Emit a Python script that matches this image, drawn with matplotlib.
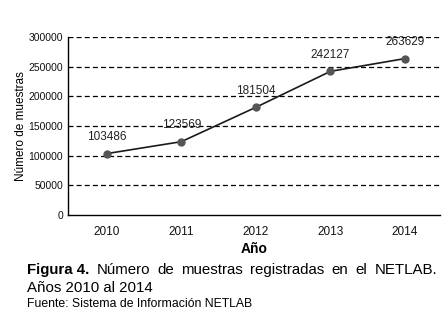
import matplotlib
matplotlib.use("Agg")
import matplotlib.pyplot as plt

years = [2010, 2011, 2012, 2013, 2014]
muestras = [103486, 123569, 181504, 242127, 263629]
yticks = [0, 50000, 100000, 150000, 200000, 250000, 300000]
caption_words = ["Figura 4.", "Número", "de", "muestras", "registradas", "en", "el", "NETLAB."]

plt.rcParams["font.family"] = ["Liberation Sans", "DejaVu Sans"]

W, H = 445, 321
fig = plt.figure(figsize=(W/100, H/100), dpi=100)
ax = fig.add_axes([68/W, 1-215/H, 372/W, 178/H])

for t in yticks[1:]:
    ax.axhline(t, color="black", lw=0.9, ls=(0, (4, 2.5)), zorder=1)

ax.plot(years, muestras, color="#1a1a1a", lw=1.2, zorder=2)
ax.plot(years, muestras, "o", color="#555555", ms=5, zorder=3)
for x, y in zip(years, muestras):
    ax.annotate(f"{y}", (x, y), xytext=(0, 7.5), textcoords="offset points",
                ha="center", va="bottom", fontsize=8.5, color="#222222")

ax.set_xlim(2009.48, 2014.47)
ax.set_ylim(0, 300000)
ax.set_xticks(years)
ax.set_yticks(yticks)
ax.tick_params(length=0, labelsize=7.5, colors="#111111")
ax.tick_params(axis="x", pad=8, labelsize=8.5)
ax.spines["top"].set_visible(False)
ax.spines["right"].set_visible(False)
ax.spines["left"].set_linewidth(1.0)
ax.spines["bottom"].set_linewidth(1.0)
ax.set_xlabel("Año", fontsize=10, fontweight="bold", labelpad=3)
ax.set_ylabel("Número de muestras", fontsize=8.5, labelpad=1)

# justified first caption line, 27..437 px
r = fig.canvas.get_renderer()
texts = []
for i, w in enumerate(caption_words):
    t = fig.text(0, 1-270/H, w, fontsize=10.8, va="center",
                 fontweight="bold" if i == 0 else "normal")
    texts.append(t)
widths = [t.get_window_extent(r).width for t in texts]
gap = (437 - 27 - sum(widths)) / (len(texts) - 1)
x = 27
for t, wd in zip(texts, widths):
    t.set_x(x / W)
    x += wd + gap

fig.text(27/W, 1-288/H, "Años 2010 al 2014", fontsize=10.8, va="center")
fig.text(27/W, 1-304/H, "Fuente: Sistema de Información NETLAB", fontsize=8.8, va="center")

fig.savefig("out.png", dpi=100)
